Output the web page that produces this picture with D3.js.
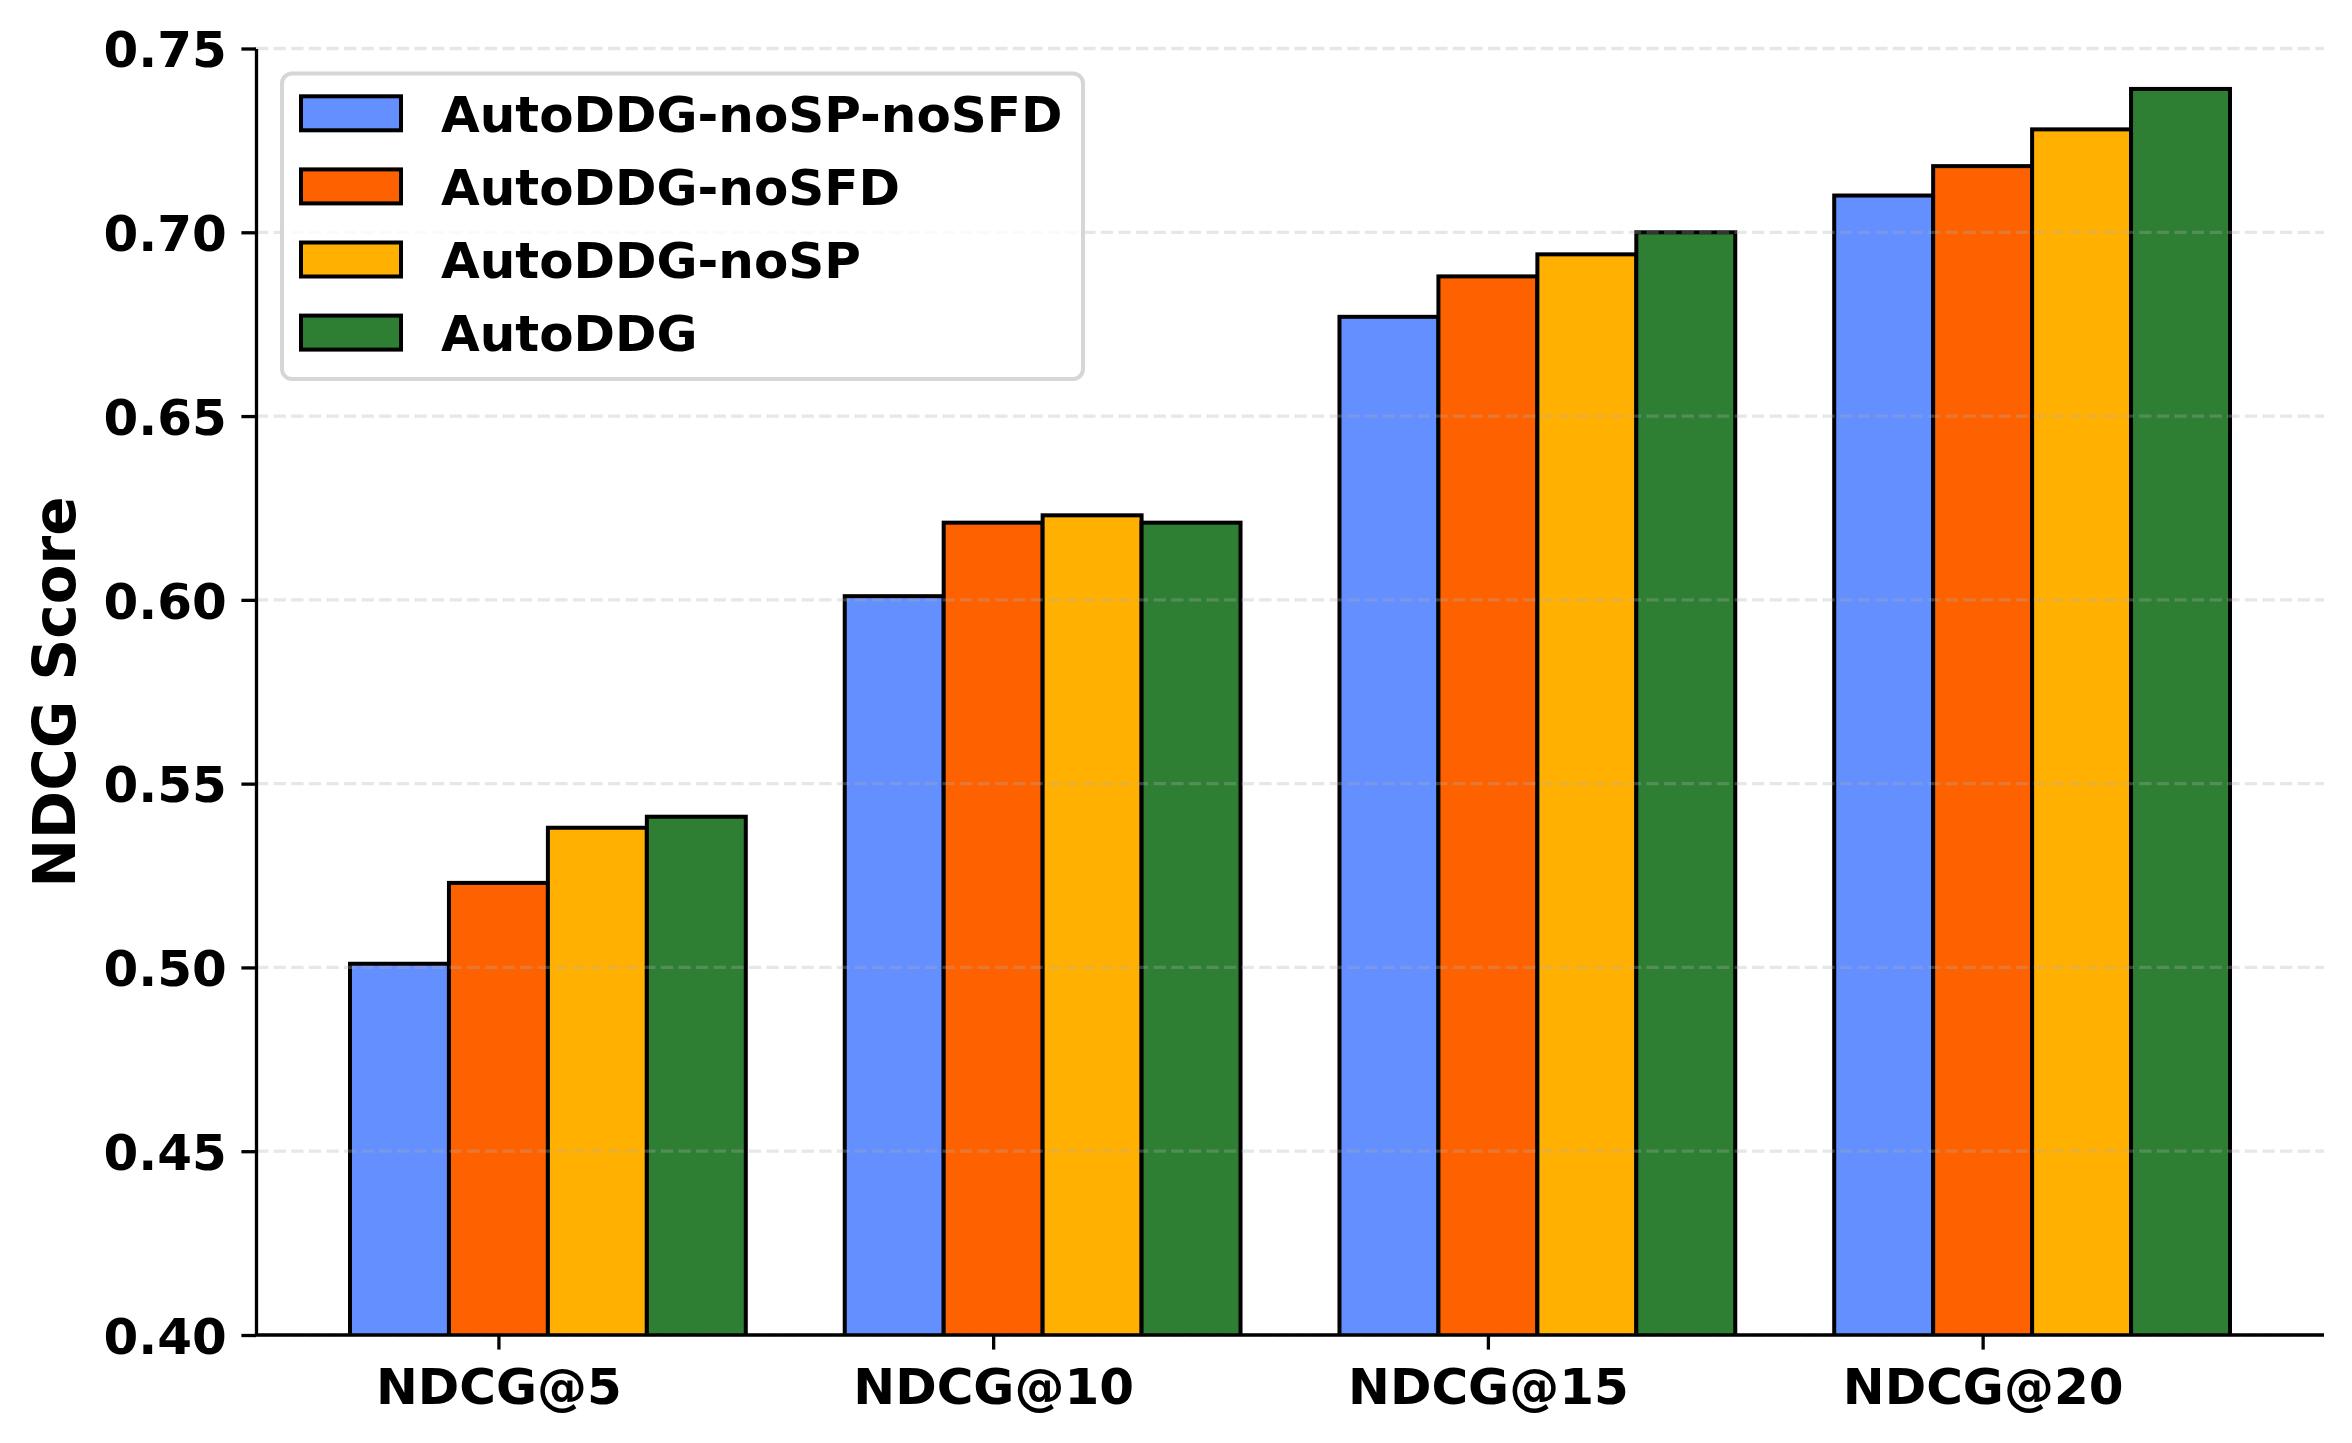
<!DOCTYPE html>
<html>
<head>
<meta charset="utf-8">
<script src="https://cdn.jsdelivr.net/npm/d3@7"></script>
<style>
  body { margin: 0; background: #fff; }
  text { font-family: "DejaVu Sans", sans-serif; font-weight: bold; }
</style>
</head>
<body>
<div class="canvas"></div>
<script>
// Data
const categories = ['NDCG@5', 'NDCG@10', 'NDCG@15', 'NDCG@20']
const seriesNames = ['AutoDDG-noSP-noSFD', 'AutoDDG-noSFD', 'AutoDDG-noSP', 'AutoDDG']
const noSPnoSFD = [0.501, 0.601, 0.677, 0.710]
const noSFD = [0.523, 0.621, 0.688, 0.718]
const noSP = [0.538, 0.623, 0.694, 0.728]
const full = [0.541, 0.621, 0.700, 0.739]
const yTicks = [0.40, 0.45, 0.50, 0.55, 0.60, 0.65, 0.70, 0.75]

const seriesValues = [noSPnoSFD, noSFD, noSP, full]
const colors = ['#648FFF', '#FE6100', '#FFB000', '#2E7F33']

const W = 2352, H = 1443
const svg = d3.select('.canvas')
  .append('svg')
    .attr('width', W)
    .attr('height', H)

// plot area
const plotLeft = 256, plotRight = 2324, plotTop = 48.5, plotBottom = 1335
const barW = 0.2

const x = d3.scaleLinear()
  .domain([-0.49, 3.69])
  .range([plotLeft, plotRight])

const y = d3.scaleLinear()
  .domain([0.40, 0.75])
  .range([plotBottom, plotTop])

svg.append('defs').append('clipPath').attr('id', 'plot')
  .append('rect')
    .attr('x', plotLeft).attr('y', 0)
    .attr('width', plotRight - plotLeft).attr('height', plotBottom)

// bars
const rows = []
seriesValues.forEach((vals, si) => {
  vals.forEach((v, ci) => rows.push({si, ci, v}))
})

svg.append('g')
  .attr('clip-path', 'url(#plot)')
  .selectAll('rect')
  .data(rows)
  .enter()
  .append('rect')
    .attr('x', d => x(d.ci + (d.si - 1) * barW - barW / 2))
    .attr('width', x(barW) - x(0))
    .attr('y', d => y(d.v))
    .attr('height', d => y(0.40) - y(d.v) + 10)
    .attr('fill', d => colors[d.si])
    .attr('stroke', '#000')
    .attr('stroke-width', 4)

// grid, drawn over the bars like matplotlib does
svg.append('g')
  .selectAll('line')
  .data(yTicks)
  .enter()
  .append('line')
    .attr('x1', plotLeft).attr('x2', plotRight)
    .attr('y1', d => y(d)).attr('y2', d => y(d))
    .attr('stroke', '#b0b0b0')
    .attr('stroke-opacity', 0.3)
    .attr('stroke-width', 3.3)
    .attr('stroke-dasharray', '12.3 5.3')

// axes
const tickLen = 14.6
const yAxis = d3.axisLeft(y)
  .tickValues(yTicks)
  .tickFormat(d3.format('.2f'))
  .tickSize(tickLen)
  .tickSizeOuter(0)
  .tickPadding(tickLen)

const xAxis = d3.axisBottom(x)
  .tickValues([0, 1, 2, 3])
  .tickFormat(i => categories[i])
  .tickSize(tickLen)
  .tickSizeOuter(0)
  .tickPadding(tickLen)

const gy = svg.append('g')
  .attr('transform', `translate(${plotLeft},0)`)
  .call(yAxis)

const gx = svg.append('g')
  .attr('transform', `translate(0,${plotBottom})`)
  .call(xAxis)

gx.select('.domain').attr('d', `M${plotLeft},0H${plotRight}`)

;[gx, gy].forEach(g => {
  g.select('.domain').attr('stroke', '#000').attr('stroke-width', 3.3)
  g.selectAll('.tick line').attr('stroke', '#000').attr('stroke-width', 3.3)
  g.selectAll('.tick text')
    .attr('fill', '#000')
    .style('font-size', '50px')
    .style('font-family', '"DejaVu Sans", sans-serif')
    .style('font-weight', 'bold')
})

gy.selectAll('.tick text').attr('dy', null).attr('y', 18.2)
gx.selectAll('.tick text').attr('dy', null).attr('y', 69)

// y label
svg.append('text')
  .attr('transform', 'translate(75,692) rotate(-90)')
  .attr('text-anchor', 'middle')
  .style('font-size', '58px')
  .text('NDCG Score')

// legend
const legend = svg.append('g')

legend.append('rect')
  .attr('x', 282).attr('y', 73.5)
  .attr('width', 801).attr('height', 305.5)
  .attr('rx', 10)
  .attr('fill', '#fff')
  .attr('fill-opacity', 0.8)
  .attr('stroke', '#d6d6d6')
  .attr('stroke-width', 4)

const items = legend.selectAll('g.item')
  .data(seriesNames)
  .enter()
  .append('g')
    .attr('transform', (d, i) => `translate(0,${113.3 + i * 73.1})`)

items.append('rect')
  .attr('x', 301).attr('y', -17)
  .attr('width', 100).attr('height', 34)
  .attr('fill', (d, i) => colors[i])
  .attr('stroke', '#000')
  .attr('stroke-width', 4)

items.append('text')
  .attr('x', 441)
  .attr('y', 18.2)
  .style('font-size', '50px')
  .text(d => d)
</script>
</body>
</html>
